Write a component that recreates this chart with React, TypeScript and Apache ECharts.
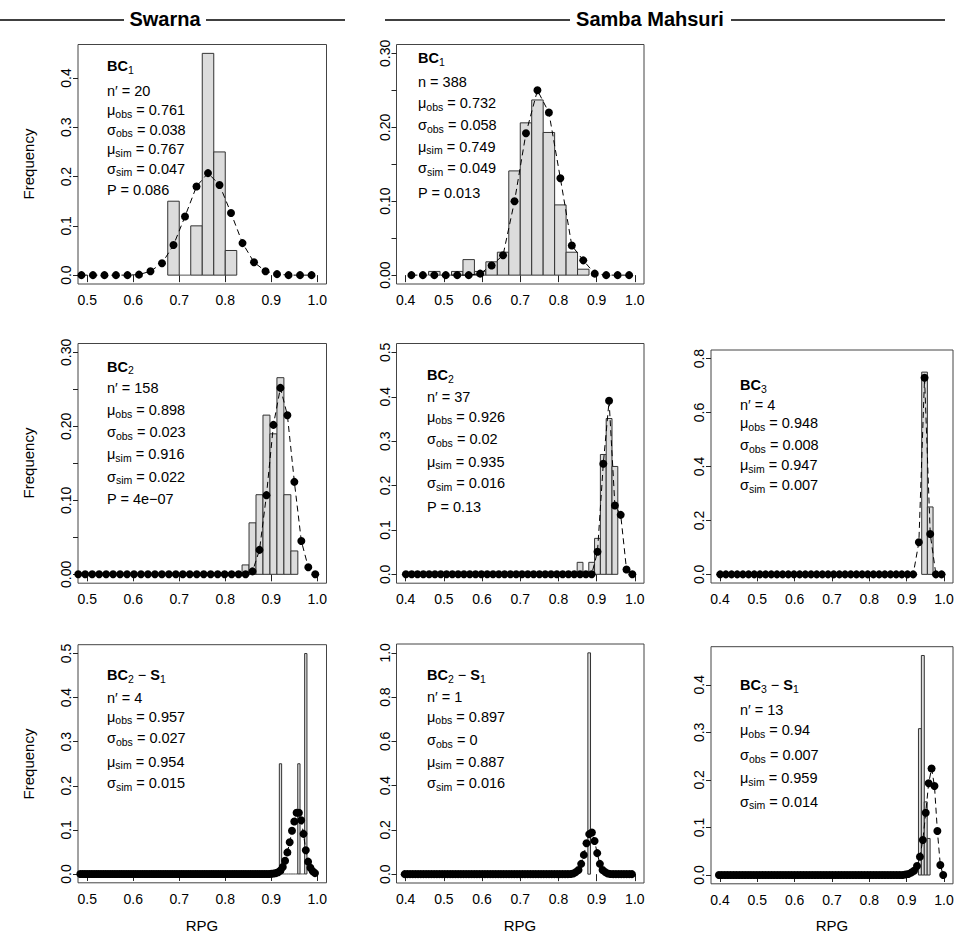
import React, { useEffect, useRef } from "react";
import * as echarts from "echarts";

const FONT = '"Liberation Sans", Arial, Helvetica, sans-serif';

// ---------- tick values ----------
const swarnaXTicks = [0.5, 0.6, 0.7, 0.8, 0.9, 1.0];
const sambaXTicks = [0.4, 0.5, 0.6, 0.7, 0.8, 0.9, 1.0];
const yTicksA = [0, 0.1, 0.2, 0.3, 0.4];
const yTicksB = [0, 0.05, 0.1, 0.15, 0.2, 0.25, 0.3];
const yLabelsB = [0, 0.1, 0.2, 0.3];
const yTicksD = [0, 0.1, 0.2, 0.3, 0.4, 0.5];
const yTicksE = [0, 0.2, 0.4, 0.6, 0.8];
const yTicksG = [0, 0.2, 0.4, 0.6, 0.8, 1.0];
const yTicksH = [0, 0.1, 0.2, 0.3, 0.4];

// ---------- Swarna BC1 (bins 0.025) ----------
const swBC1Sim = [0, 0, 0, 0, 0, 0.001, 0.008, 0.024, 0.061, 0.119, 0.18, 0.207, 0.183, 0.126, 0.065, 0.026, 0.008, 0.002, 0, 0, 0];
const swBC1Obs = [0.15, 0, 0.1, 0.45, 0.25, 0.05];
const swBC1Stats = ["n′ = 20", "0.761", "0.038", "0.767", "0.047", "0.086"];

// ---------- Samba Mahsuri BC1 (bins 0.03) ----------
const smBC1Sim = [0, 0, 0, 0, 0, 0, 0.002, 0.013, 0.027, 0.1, 0.192, 0.25, 0.22, 0.131, 0.04, 0.02, 0.002, 0, 0, 0];
const smBC1Obs = [0.005, 0, 0.005, 0.021, 0.005, 0.018, 0.031, 0.141, 0.206, 0.237, 0.193, 0.095, 0.031, 0.008];
const smBC1Stats = ["n = 388", "0.732", "0.058", "0.749", "0.049", "0.013"];

// ---------- Swarna BC2 ----------
const swBC2Sim = [
  0, 0, 0, 0, 0, 0, 0, 0, 0, 0,
  0, 0, 0, 0, 0, 0, 0, 0, 0, 0,
  0, 0, 0, 0, 0,
  0.004, 0.033, 0.107, 0.202, 0.252, 0.215, 0.125, 0.045, 0.0095, 0,
];
const swBC2Obs = [0.0127, 0.0696, 0.1076, 0.2152, 0.1899, 0.2658, 0.1076, 0.0316];
const swBC2Stats = ["n′ = 158", "0.898", "0.023", "0.916", "0.022", "4e−07"];

// ---------- Samba Mahsuri BC2 ----------
const smBC2Sim = [
  0, 0, 0, 0, 0, 0, 0, 0, 0, 0,
  0, 0, 0, 0, 0, 0, 0, 0, 0, 0,
  0, 0, 0, 0, 0, 0, 0, 0, 0, 0,
  0, 0, 0,
  0.051, 0.249, 0.391, 0.155, 0.134, 0.011, 0,
];
const smBC2Obs = [0.027, 0, 0.027, 0.081, 0.27, 0.351, 0.243];
const smBC2Stats = ["n′ = 37", "0.926", "0.02", "0.935", "0.016", "0.13"];

// ---------- Samba Mahsuri BC3 ----------
const smBC3Sim = [
  0, 0, 0, 0, 0, 0, 0, 0, 0, 0,
  0, 0, 0, 0, 0, 0, 0, 0, 0, 0,
  0, 0, 0, 0, 0, 0, 0, 0, 0, 0,
  0, 0, 0, 0, 0,
  0.119, 0.729, 0.15, 0, 0,
];
const smBC3Obs = [0.75, 0.25];
const smBC3Stats = ["n′ = 4", "0.948", "0.008", "0.947", "0.007"];

// ---------- Swarna BC2-S1 ----------
const swBC2S1Sim = [
  0, 0, 0, 0, 0, 0, 0, 0, 0, 0,
  0, 0, 0, 0, 0, 0, 0, 0, 0, 0,
  0, 0, 0, 0, 0, 0, 0, 0, 0, 0,
  0, 0, 0, 0, 0, 0, 0, 0, 0, 0,
  0, 0, 0, 0, 0, 0, 0, 0, 0, 0,
  0, 0, 0, 0, 0, 0, 0, 0, 0, 0,
  0, 0, 0, 0, 0, 0, 0, 0, 0, 0,
  0, 0, 0, 0, 0, 0, 0, 0, 0, 0,
  0, 0, 0,
  0.0005, 0.001, 0.002, 0.004, 0.008, 0.016, 0.03, 0.049, 0.072, 0.098,
  0.119, 0.139, 0.139, 0.122, 0.091, 0.054, 0.028, 0.014, 0.006, 0.002,
];
const swBC2S1Obs = [0.25, 0, 0, 0, 0, 0, 0, 0, 0.25, 0, 0, 0.5];
const swBC2S1Stats = ["n′ = 4", "0.957", "0.027", "0.954", "0.015"];

// ---------- Samba Mahsuri BC2-S1 ----------
const smBC2S1Sim = [
  0, 0, 0, 0, 0, 0, 0, 0, 0, 0,
  0, 0, 0, 0, 0, 0, 0, 0, 0, 0,
  0, 0, 0, 0, 0, 0, 0, 0, 0, 0,
  0, 0, 0, 0, 0, 0, 0, 0, 0, 0,
  0, 0, 0, 0, 0, 0, 0, 0, 0, 0,
  0, 0, 0, 0, 0, 0, 0, 0, 0, 0,
  0, 0,
  0.001, 0.003, 0.009, 0.019, 0.0465, 0.087, 0.14, 0.181, 0.188, 0.15,
  0.095, 0.0465, 0.019, 0.009, 0.003, 0.001,
  0, 0, 0, 0, 0, 0, 0, 0,
];
const smBC2S1Obs = [1.0];
const smBC2S1Stats = ["n′ = 1", "0.897", "0", "0.887", "0.016"];

// ---------- Samba Mahsuri BC3-S1 ----------
const smBC3S1Sim = [
  0, 0, 0, 0, 0, 0, 0, 0, 0, 0,
  0, 0, 0, 0, 0, 0, 0, 0, 0, 0,
  0, 0, 0, 0, 0, 0, 0, 0, 0, 0,
  0, 0, 0, 0, 0, 0, 0, 0, 0, 0,
  0, 0, 0, 0, 0, 0, 0, 0, 0, 0,
  0, 0, 0, 0, 0, 0, 0, 0, 0, 0,
  0, 0, 0, 0,
  0.001, 0.002, 0.005, 0.009, 0.019, 0.0385, 0.0736, 0.131, 0.193, 0.224,
  0.187, 0.0925, 0.021, 0,
];
const smBC3S1Obs = [0.3077, 0.4615, 0.1538, 0.0769];
const smBC3S1Stats = ["n′ = 13", "0.94", "0.007", "0.959", "0.014"];

// ---------- panel layout ----------
type Panel = {
  grid: { left: number; top: number; width: number; height: number };
  xMin: number; xMax: number; xTicks: number[];
  yMin: number; yMax: number; yTicks: number[]; yLabels: number[]; yDec: number;
  simStart: number; step: number; sim: number[];
  obsStart: number; obs: number[];
  bc: string; s: string | null; stats: string[];
  textX: number; textY: number[];
};

const panels: Panel[] = [
  {
    grid: { left: 78, top: 44.5, width: 248.5, height: 239.5 },
    xMin: 0.48, xMax: 1.02, xTicks: swarnaXTicks,
    yMin: -0.018, yMax: 0.468, yTicks: yTicksA, yLabels: yTicksA, yDec: 1,
    simStart: 0.4875, step: 0.025, sim: swBC1Sim, obsStart: 0.6875, obs: swBC1Obs,
    bc: "1", s: null, stats: swBC1Stats, textX: 107, textY: [66, 91, 110, 129.5, 149, 168.5, 189.5],
  },
  {
    grid: { left: 396.5, top: 44.5, width: 247.5, height: 239.5 },
    xMin: 0.376, xMax: 1.024, xTicks: sambaXTicks,
    yMin: -0.012, yMax: 0.312, yTicks: yTicksB, yLabels: yLabelsB, yDec: 2,
    simStart: 0.415, step: 0.03, sim: smBC1Sim, obsStart: 0.475, obs: smBC1Obs,
    bc: "1", s: null, stats: smBC1Stats, textX: 418, textY: [58, 82, 103, 125, 146.5, 168, 192.5],
  },
  {
    grid: { left: 78, top: 343.5, width: 248.5, height: 239.7 },
    xMin: 0.48, xMax: 1.02, xTicks: swarnaXTicks,
    yMin: -0.012, yMax: 0.312, yTicks: yTicksB, yLabels: yLabelsB, yDec: 2,
    simStart: 0.4805, step: 0.01515, sim: swBC2Sim, obsStart: 0.8441, obs: swBC2Obs,
    bc: "2", s: null, stats: swBC2Stats, textX: 107, textY: [366.7, 388.3, 410, 432.3, 454.3, 476.7, 499],
  },
  {
    grid: { left: 396.5, top: 343.5, width: 247.5, height: 239.7 },
    xMin: 0.376, xMax: 1.024, xTicks: sambaXTicks,
    yMin: -0.02, yMax: 0.52, yTicks: yTicksD, yLabels: yTicksD, yDec: 1,
    simStart: 0.4006, step: 0.0152, sim: smBC2Sim, obsStart: 0.8566, obs: smBC2Obs,
    bc: "2", s: null, stats: smBC2Stats, textX: 427, textY: [375, 396.7, 416.7, 439.3, 461.7, 483.3, 506.7],
  },
  {
    grid: { left: 711, top: 350, width: 242, height: 233 },
    xMin: 0.376, xMax: 1.024, xTicks: sambaXTicks,
    yMin: -0.032, yMax: 0.832, yTicks: yTicksE, yLabels: yTicksE, yDec: 1,
    simStart: 0.4006, step: 0.0152, sim: smBC3Sim, obsStart: 0.9478, obs: smBC3Obs,
    bc: "3", s: null, stats: smBC3Stats, textX: 740, textY: [385, 405, 423.3, 445, 465, 485],
  },
  {
    grid: { left: 78, top: 644.7, width: 248.5, height: 238.1 },
    xMin: 0.48, xMax: 1.02, xTicks: swarnaXTicks,
    yMin: -0.02, yMax: 0.52, yTicks: yTicksD, yLabels: yTicksD, yDec: 1,
    simStart: 0.485, step: 0.005, sim: swBC2S1Sim, obsStart: 0.92, obs: swBC2S1Obs,
    bc: "2", s: "1", stats: swBC2S1Stats, textX: 107, textY: [675, 698.3, 716.7, 738.3, 761.7, 783.3],
  },
  {
    grid: { left: 396.5, top: 644, width: 247.5, height: 239 },
    xMin: 0.376, xMax: 1.024, xTicks: sambaXTicks,
    yMin: -0.04, yMax: 1.04, yTicks: yTicksG, yLabels: yTicksG, yDec: 1,
    simStart: 0.3975, step: 0.007, sim: smBC2S1Sim, obsStart: 0.8805, obs: smBC2S1Obs,
    bc: "2", s: "1", stats: smBC2S1Stats, textX: 427, textY: [675, 697.3, 716.7, 740, 761.7, 783.3],
  },
  {
    grid: { left: 711, top: 646.7, width: 242, height: 237.1 },
    xMin: 0.376, xMax: 1.024, xTicks: sambaXTicks,
    yMin: -0.01846, yMax: 0.48, yTicks: yTicksH, yLabels: yTicksH, yDec: 1,
    simStart: 0.3972, step: 0.0078, sim: smBC3S1Sim, obsStart: 0.9354, obs: smBC3S1Obs,
    bc: "3", s: "1", stats: smBC3S1Stats, textX: 740, textY: [685, 710, 730, 755, 778.3, 801.7],
  },
];

const rich = {
  m: { fontSize: 14.5, fontFamily: FONT, fill: "#000", lineHeight: 18, verticalAlign: "middle" },
  s: { fontSize: 10.5, fontFamily: FONT, fill: "#000", lineHeight: 10, verticalAlign: "bottom" },
  b: { fontSize: 14.5, fontFamily: FONT, fontWeight: "bold", fill: "#000", lineHeight: 18, verticalAlign: "middle" },
  bs: { fontSize: 10.5, fontFamily: FONT, fill: "#000", lineHeight: 10, verticalAlign: "bottom" },
};

function richText(x: number, y: number, text: string) {
  return {
    type: "text",
    x,
    y,
    silent: true,
    style: {
      text,
      rich,
      fill: "#000",
      fontSize: 14.5,
      fontFamily: FONT,
      align: "left",
      verticalAlign: "middle",
      textAlign: "left",
      textVerticalAlign: "middle",
    },
  };
}

function plainText(x: number, y: number, text: string, size: number, bold: boolean, rotation = 0) {
  return {
    type: "text",
    x,
    y,
    rotation,
    silent: true,
    style: {
      text,
      fill: "#000",
      fontSize: size,
      fontWeight: bold ? "bold" : "normal",
      fontFamily: FONT,
      align: "center",
      verticalAlign: "middle",
      textAlign: "center",
      textVerticalAlign: "middle",
    },
  };
}

function hline(x1: number, x2: number, y: number) {
  return { type: "line", silent: true, shape: { x1, y1: y, x2, y2: y }, style: { stroke: "#000", lineWidth: 1.5 } };
}

const makeRender = (w: number) => (params: any, api: any) => {
  const x = api.value(0);
  const y = api.value(1);
  const a = api.coord([x - w / 2, y]);
  const b = api.coord([x + w / 2, 0]);
  const h = b[1] - a[1];
  if (h < 0.5) {
    return { type: "line", shape: { x1: a[0], y1: b[1], x2: b[0], y2: b[1] }, style: { stroke: "#555", lineWidth: 1 } };
  }
  return {
    type: "rect",
    shape: { x: a[0], y: a[1], width: b[0] - a[0], height: h },
    style: { fill: "#dcdcdc", stroke: "#333", lineWidth: 1 },
  };
};

function buildOption() {
  const grid: any[] = [];
  const xAxis: any[] = [];
  const yAxis: any[] = [];
  const series: any[] = [];
  const graphic: any[] = [];

  panels.forEach((p, i) => {
    grid.push({ ...p.grid, show: true, borderColor: "#444", borderWidth: 1, backgroundColor: "transparent", containLabel: false });
    xAxis.push({
      type: "value",
      gridIndex: i,
      min: p.xMin,
      max: p.xMax,
      axisLine: { show: false },
      splitLine: { show: false },
      axisTick: { show: true, inside: false, length: 7, customValues: p.xTicks, lineStyle: { color: "#222", width: 1 } },
      axisLabel: {
        show: true,
        customValues: p.xTicks,
        formatter: (v: number) => v.toFixed(1),
        fontSize: 14,
        fontFamily: FONT,
        color: "#000",
        margin: 9,
      },
    });
    yAxis.push({
      type: "value",
      gridIndex: i,
      min: p.yMin,
      max: p.yMax,
      axisLine: { show: false },
      splitLine: { show: false },
      axisTick: { show: true, inside: false, length: 5, customValues: p.yTicks, lineStyle: { color: "#222", width: 1 } },
      axisLabel: {
        show: true,
        customValues: p.yLabels,
        rotate: 90,
        formatter: (v: number) => v.toFixed(p.yDec),
        fontSize: 14,
        fontFamily: FONT,
        color: "#000",
        margin: 5,
      },
    });
    series.push({
      type: "custom",
      xAxisIndex: i,
      yAxisIndex: i,
      silent: true,
      z: 2,
      encode: { x: 0, y: 1 },
      data: p.obs.map((v, k) => [p.obsStart + k * p.step, v]),
      renderItem: makeRender(p.step),
    });
    series.push({
      type: "line",
      xAxisIndex: i,
      yAxisIndex: i,
      silent: true,
      z: 3,
      symbol: "circle",
      symbolSize: 8,
      showSymbol: true,
      showAllSymbol: true,
      itemStyle: { color: "#000" },
      lineStyle: { color: "#000", width: 1, type: [6, 4] },
      data: p.sim.map((v, k) => [p.simStart + k * p.step, v]),
    });

    // panel annotation text
    const title = p.s ? `{b|BC}{bs|${p.bc}}{m| − }{b|S}{bs|${p.s}}` : `{b|BC}{bs|${p.bc}}`;
    const st = p.stats;
    const lines = [
      title,
      `{m|${st[0]}}`,
      `{m|μ}{s|obs}{m| = ${st[1]}}`,
      `{m|σ}{s|obs}{m| = ${st[2]}}`,
      `{m|μ}{s|sim}{m| = ${st[3]}}`,
      `{m|σ}{s|sim}{m| = ${st[4]}}`,
    ];
    if (st.length > 5) lines.push(`{m|P = ${st[5]}}`);
    lines.forEach((t, k) => graphic.push(richText(p.textX, p.textY[k], t)));
  });

  // headers
  graphic.push(hline(0, 124, 20));
  graphic.push(plainText(165, 19, "Swarna", 20, true));
  graphic.push(hline(206, 345, 20));
  graphic.push(hline(385, 570, 20));
  graphic.push(plainText(650, 19, "Samba Mahsuri", 20, true));
  graphic.push(hline(731, 945, 20));

  // axis titles
  graphic.push(plainText(28, 164, "Frequency", 15, false, Math.PI / 2));
  graphic.push(plainText(28, 463, "Frequency", 15, false, Math.PI / 2));
  graphic.push(plainText(28, 764, "Frequency", 15, false, Math.PI / 2));
  graphic.push(plainText(202, 925, "RPG", 15, false));
  graphic.push(plainText(520, 925, "RPG", 15, false));
  graphic.push(plainText(832, 925, "RPG", 15, false));

  return {
    animation: false,
    backgroundColor: "#fff",
    textStyle: { fontFamily: FONT },
    grid,
    xAxis,
    yAxis,
    series,
    graphic: { elements: graphic },
  };
}

export default function App() {
  const ref = useRef<HTMLDivElement>(null);
  useEffect(() => {
    if (!ref.current) return;
    const chart = echarts.init(ref.current, undefined, { renderer: "svg" });
    chart.setOption(buildOption() as any);
    return () => chart.dispose();
  }, []);
  return (
    <div
      ref={ref}
      style={{ position: "absolute", left: 0, top: 0, width: 967, height: 945, background: "#fff" }}
    />
  );
}
